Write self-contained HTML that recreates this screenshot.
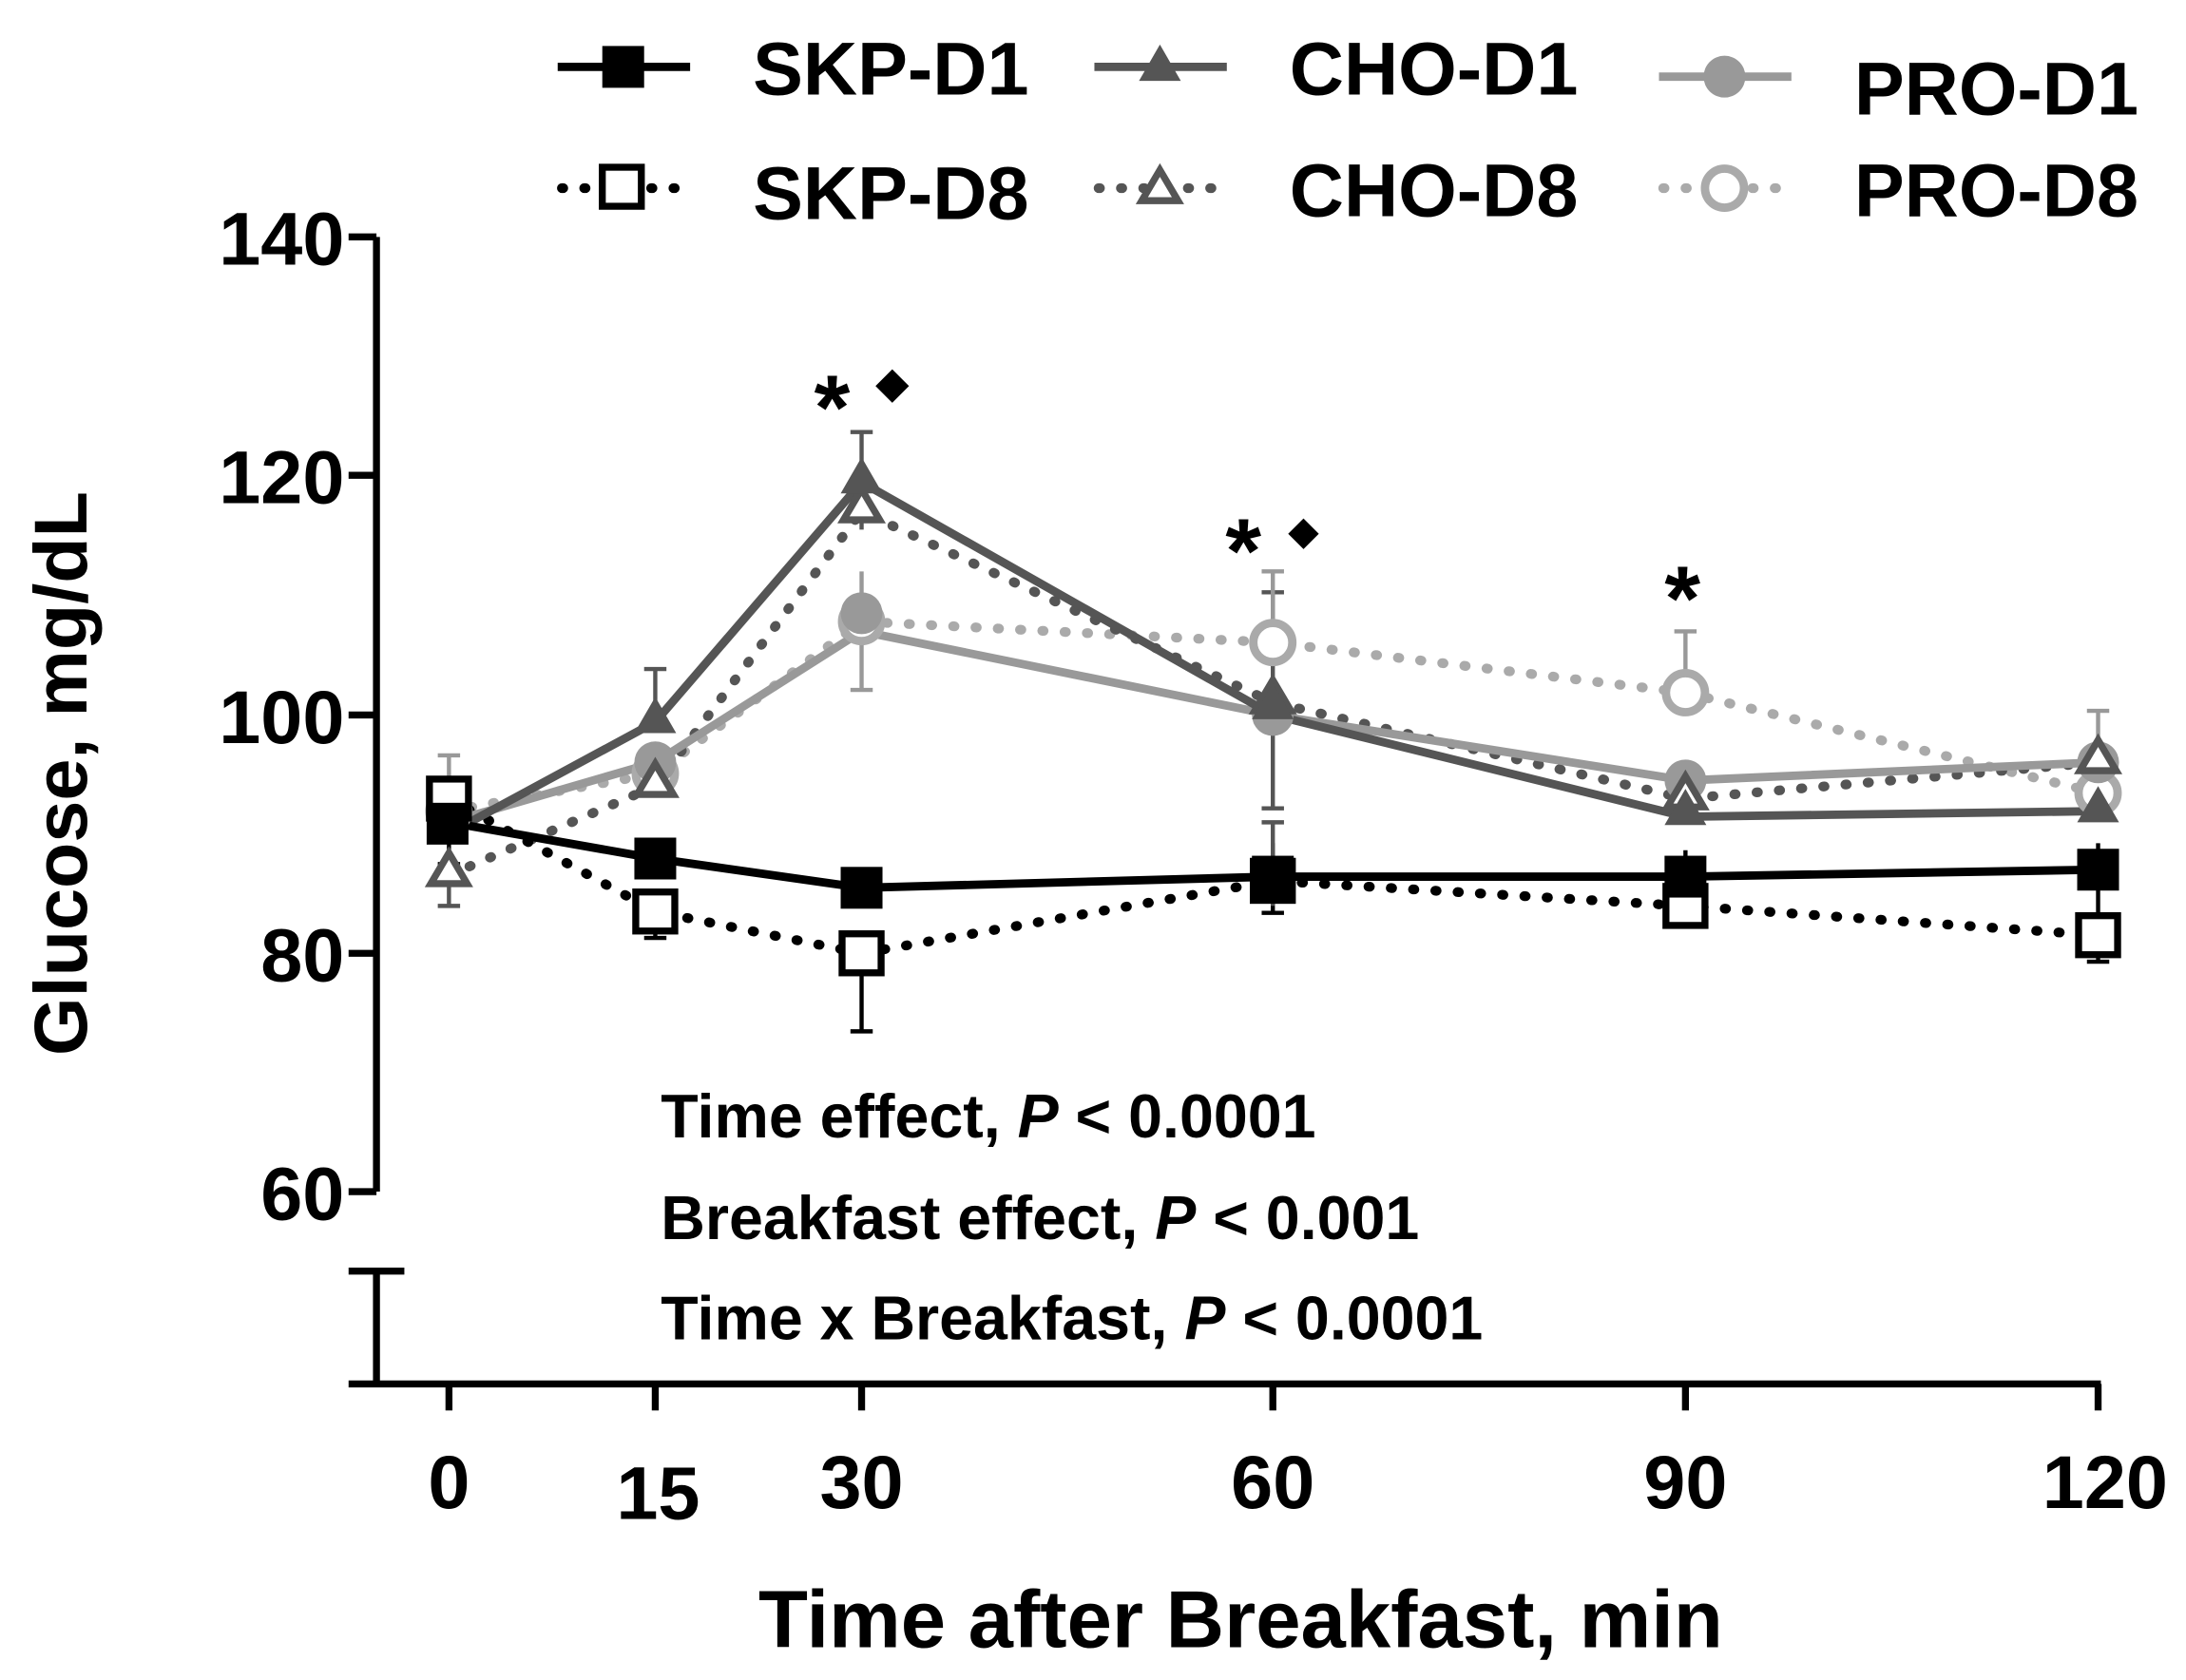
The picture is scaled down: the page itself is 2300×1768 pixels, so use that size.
<!DOCTYPE html>
<html><head><meta charset="utf-8"><style>html,body{margin:0;padding:0;background:#fff}svg{display:block}text{font-family:"Liberation Sans",sans-serif;font-weight:bold}</style></head>
<body>
<svg width="2300" height="1768" viewBox="0 0 1568 1205.4" xmlns="http://www.w3.org/2000/svg">
<rect width="1568" height="1206" fill="#fff"/>
<g stroke="#000" stroke-width="5" fill="none">
<line x1="270" y1="170" x2="270" y2="855"/>
<line x1="250" y1="170" x2="270" y2="170"/>
<line x1="250" y1="341" x2="270" y2="341"/>
<line x1="250" y1="513" x2="270" y2="513"/>
<line x1="250" y1="684" x2="270" y2="684"/>
<line x1="250" y1="855" x2="270" y2="855"/>
<line x1="270" y1="912" x2="270" y2="993"/>
<line x1="250" y1="912" x2="290" y2="912"/>
<line x1="250" y1="993" x2="1507" y2="993"/>
<line x1="322" y1="993" x2="322" y2="1012"/>
<line x1="470" y1="993" x2="470" y2="1012"/>
<line x1="618" y1="993" x2="618" y2="1012"/>
<line x1="913" y1="993" x2="913" y2="1012"/>
<line x1="1209" y1="993" x2="1209" y2="1012"/>
<line x1="1505" y1="993" x2="1505" y2="1012"/>
</g>
<g font-size="54" text-anchor="end">
<text x="247" y="190">140</text><text x="247" y="361">120</text><text x="247" y="533">100</text><text x="247" y="704">80</text><text x="247" y="875">60</text>
</g>
<g font-size="54" text-anchor="middle">
<text x="322" y="1082">0</text><text x="472" y="1090">15</text><text x="618" y="1082">30</text><text x="913" y="1082">60</text><text x="1209" y="1082">90</text><text x="1510" y="1082">120</text>
</g>
<text x="890" y="1182" font-size="58" text-anchor="middle">Time after Breakfast, min</text>
<text transform="translate(62,555) rotate(-90)" font-size="54" text-anchor="middle">Glucose, mg/dL</text>
<g font-size="44">
<text x="474" y="816">Time effect, <tspan font-style="italic">P</tspan> &lt; 0.0001</text>
<text x="474" y="889">Breakfast effect, <tspan font-style="italic">P</tspan> &lt; 0.001</text>
<text x="474" y="961">Time x Breakfast, <tspan font-style="italic">P</tspan> &lt; 0.0001</text>
</g>
<g font-size="66"><text x="584" y="315">*</text><text x="879" y="418">*</text><text x="1194" y="452">*</text></g>
<path d="M640,265 l12,12 -12,12 -12,-12z M935,372 l11,11 -11,11 -11,-11z"/>
<g stroke-width="3" fill="none">
<g stroke="#555"><path d="M618,310V380 M610,310h16 M470,480V520 M462,480h16 M913,425V580 M905,425h16 M905,580h16"/></g>
<g stroke="#999"><path d="M618,410V495 M610,495h16 M913,410V460 M905,410h16 M1209,453V510 M1201,453h16 M1505,510V550 M1497,510h16 M322,542V580 M314,542h16"/></g>
<g stroke="#000"><path d="M618,680V740 M610,740h16 M913,605V655 M905,655h16 M470,650V673 M462,673h16 M1505,605V690 M1497,690h16 M322,580V620 M314,620h16 M1209,610V650"/></g>
<g stroke="#555"><path d="M322,620V650 M314,650h16 M913,590V650 M905,590h16"/></g>
</g>
<g fill="none" stroke-width="7" stroke-linecap="round">
<polyline stroke="#aaa" stroke-dasharray="1,15" points="322,582 470,555 618,446 913,461 1209,497 1505,569"/>
<polyline stroke="#555" stroke-dasharray="1,15" points="322,628 470,564 618,367 913,504 1209,573 1505,547"/>
<polyline stroke="#000" stroke-dasharray="1,15" points="322,573 470,654 618,684 913,632 1209,650 1505,671"/>
</g>
<g fill="none" stroke-width="6">
<polyline stroke="#999" points="322,590 470,547 618,453 913,513 1209,560 1505,547"/>
<polyline stroke="#555" points="322,598 470,518 618,346 913,513 1209,586 1505,582"/>
<polyline stroke="#000" points="322,590 470,616 618,637 913,629 1209,629 1505,624"/>
</g>
<g fill="#fff" stroke="#aaa" stroke-width="6">
<circle cx="470" cy="555" r="14"/><circle cx="618" cy="446" r="14"/><circle cx="913" cy="461" r="14"/><circle cx="1209" cy="497" r="14"/><circle cx="1505" cy="569" r="14"/><circle cx="322" cy="582" r="14"/></g>
<g fill="#999"><circle cx="470" cy="547" r="15"/><circle cx="618" cy="440" r="15"/><circle cx="913" cy="513" r="15"/><circle cx="1209" cy="560" r="15"/><circle cx="1505" cy="547" r="15"/></g>
<g fill="#fff" stroke="#555" stroke-width="5">
<path d="M322,612 l13,22 h-26z M470,548 l13,22 h-26z M618,351 l13,22 h-26z M913,488 l13,22 h-26z M1209,557 l13,22 h-26z M1505,531 l13,22 h-26z"/></g>
<g fill="#555"><path d="M470,500 l15,26 h-30z M618,328 l15,26 h-30z M913,490 l15,26 h-30z M1209,566 l15,26 h-30z M1505,564 l15,26 h-30z"/></g>
<g fill="#fff" stroke="#000" stroke-width="5">
<rect x="308" y="559" width="28" height="28"/><rect x="456" y="640" width="28" height="28"/><rect x="604" y="670" width="28" height="28"/><rect x="899" y="618" width="28" height="28"/><rect x="1195" y="636" width="28" height="28"/><rect x="1491" y="657" width="28" height="28"/></g>
<g fill="#000"><rect x="306" y="576" width="30" height="30"/><rect x="455" y="601" width="30" height="30"/><rect x="603" y="622" width="30" height="30"/><rect x="898" y="614" width="30" height="30"/><rect x="1194" y="614" width="30" height="30"/><rect x="1490" y="609" width="30" height="30"/></g>
<g stroke-width="6" fill="none">
<line x1="400" y1="48" x2="495" y2="48" stroke="#000"/>
<line x1="785" y1="48" x2="880" y2="48" stroke="#555"/>
<line x1="1190" y1="55" x2="1285" y2="55" stroke="#999"/>
</g>
<g stroke-width="7" fill="none" stroke-linecap="round" stroke-dasharray="1,15">
<line x1="403" y1="135" x2="495" y2="135" stroke="#000"/>
<line x1="788" y1="135" x2="880" y2="135" stroke="#555"/>
<line x1="1193" y1="135" x2="1285" y2="135" stroke="#aaa"/>
</g>
<rect x="432" y="33" width="30" height="30"/>
<rect x="432" y="120" width="28" height="28" fill="#fff" stroke="#000" stroke-width="5"/>
<path d="M832,32 l15,26 h-30z" fill="#555"/>
<path d="M832,122 l13,22 h-26z" fill="#fff" stroke="#555" stroke-width="5"/>
<circle cx="1237" cy="55" r="15" fill="#999"/>
<circle cx="1237" cy="135" r="14" fill="#fff" stroke="#aaa" stroke-width="6"/>
<g font-size="54">
<text x="540" y="68">SKP-D1</text><text x="540" y="157">SKP-D8</text>
<text x="925" y="68">CHO-D1</text><text x="925" y="155">CHO-D8</text>
<text x="1330" y="82">PRO-D1</text><text x="1330" y="155">PRO-D8</text>
</g>
</svg>
</body></html>
